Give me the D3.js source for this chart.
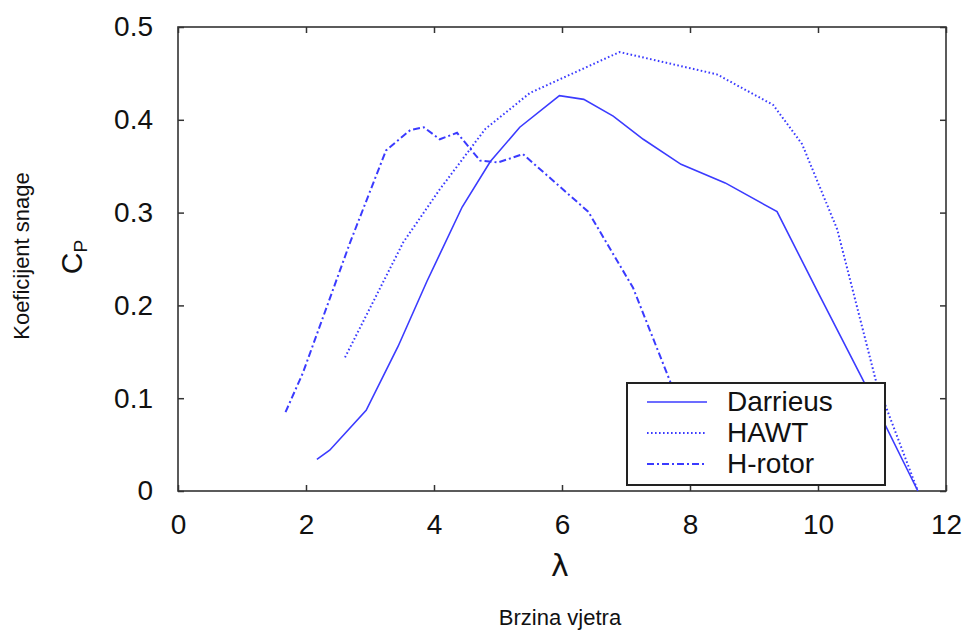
<!DOCTYPE html>
<html>
<head>
<meta charset="utf-8">
<script src="https://cdn.jsdelivr.net/npm/d3@7"></script>
<style>
  body { margin: 0; background: #fff; }
  svg { display: block; }
  .tick text { font-family: "Liberation Sans", Arial, sans-serif; font-size: 28px; fill: #111; }
</style>
</head>
<body>
<div id="chart"></div>
<script>
// values: lambda (tip speed ratio) vs Cp
const darrieusX = [2.17, 2.37, 2.94, 3.44, 3.89, 4.44, 4.88, 5.34, 5.96, 6.34, 6.8, 7.27, 7.86, 8.55, 9.36, 10.0, 10.7, 11.56];
const darrieusY = [0.034, 0.044, 0.087, 0.156, 0.226, 0.306, 0.355, 0.392, 0.426, 0.422, 0.404, 0.379, 0.352, 0.332, 0.301, 0.214, 0.12, 0.0];

const hawtX = [2.61, 3.52, 4.09, 4.8, 5.5, 6.9, 8.42, 9.3, 9.75, 10.3, 10.9, 11.56];
const hawtY = [0.144, 0.268, 0.325, 0.39, 0.429, 0.473, 0.449, 0.416, 0.374, 0.282, 0.12, 0.0];

const hrotorX = [1.68, 1.95, 2.27, 2.69, 3.25, 3.63, 3.84, 4.09, 4.36, 4.72, 5.0, 5.39, 6.41, 7.11, 7.69, 7.9];
const hrotorY = [0.085, 0.127, 0.188, 0.268, 0.367, 0.389, 0.392, 0.379, 0.386, 0.356, 0.354, 0.363, 0.301, 0.219, 0.118, 0.08];

const xTicks = [0, 2, 4, 6, 8, 10, 12];
const yTicks = [0, 0.1, 0.2, 0.3, 0.4, 0.5];
const seriesNames = ["Darrieus", "HAWT", "H-rotor"];

const width = 966, height = 630;
const margin = {top: 27, right: 20, bottom: 139, left: 178};
const w = width - margin.left - margin.right;
const h = height - margin.top - margin.bottom;
const blue = "#3b3bff";
const dashes = [null, "1.6,2.4", "7,3,2,3"];

let svg = d3.select("#chart").append("svg")
	.attr("width", width)
	.attr("height", height);

let g = svg.append("g")
	.attr("transform", "translate(" + margin.left + "," + margin.top + ")");

let xScale = d3.scaleLinear().domain([0, 12]).range([0, w]);
let yScale = d3.scaleLinear().domain([0, 0.5]).range([h, 0]);

// axes with inward ticks on all four sides
let fmtY = d => d === 0 ? "0" : d3.format(".1f")(d);
g.append("g")
	.attr("transform", "translate(0," + h + ")")
	.call(d3.axisBottom(xScale).tickValues(xTicks).tickSize(-6).tickPadding(23))
	.call(a => a.select(".domain").remove());
g.append("g")
	.call(d3.axisLeft(yScale).tickValues(yTicks).tickFormat(fmtY).tickSize(-6).tickPadding(25))
	.call(a => a.select(".domain").remove());
g.append("g")
	.call(d3.axisTop(xScale).tickValues(xTicks).tickSize(-6).tickFormat(""))
	.call(a => a.select(".domain").remove());
g.append("g")
	.attr("transform", "translate(" + w + ",0)")
	.call(d3.axisRight(yScale).tickValues(yTicks).tickSize(-6).tickFormat(""))
	.call(a => a.select(".domain").remove());
g.selectAll(".tick line").attr("stroke", "#333").attr("stroke-width", 1.5);

g.append("rect")
	.attr("width", w).attr("height", h)
	.attr("fill", "none")
	.attr("stroke", "#333")
	.attr("stroke-width", 1.6);

// the three curves
const series = [
	darrieusX.map((x, i) => ({x: x, y: darrieusY[i]})),
	hawtX.map((x, i) => ({x: x, y: hawtY[i]})),
	hrotorX.map((x, i) => ({x: x, y: hrotorY[i]}))
];
let line = d3.line()
	.x(d => xScale(d.x))
	.y(d => yScale(d.y));

series.forEach((s, i) => {
	g.append("path")
		.datum(s)
		.attr("fill", "none")
		.attr("stroke", blue)
		.attr("stroke-width", i == 0 ? 1.6 : 2)
		.attr("stroke-dasharray", dashes[i])
		.attr("d", line);
});

// legend
let lg = svg.append("g").attr("transform", "translate(627,383)");
lg.append("rect")
	.attr("width", 258).attr("height", 102)
	.attr("fill", "#fff")
	.attr("stroke", "#222")
	.attr("stroke-width", 2);
seriesNames.forEach((name, i) => {
	let yy = 19 + i * 31;
	lg.append("line")
		.attr("x1", 20).attr("x2", 80)
		.attr("y1", yy).attr("y2", yy)
		.attr("stroke", blue)
		.attr("stroke-width", i == 0 ? 1.6 : 2)
		.attr("stroke-dasharray", dashes[i]);
	lg.append("text")
		.attr("x", 100).attr("y", yy + 9)
		.attr("font-family", "Liberation Sans, Arial, sans-serif")
		.attr("font-size", 28)
		.attr("fill", "#111")
		.text(name);
});

// axis labels
svg.append("text")
	.attr("x", 560).attr("y", 576)
	.attr("text-anchor", "middle")
	.attr("font-family", "DejaVu Sans, sans-serif")
	.attr("font-size", 30)
	.attr("fill", "#111")
	.text("λ");

svg.append("text")
	.attr("x", 560).attr("y", 625)
	.attr("text-anchor", "middle")
	.attr("font-family", "Liberation Sans, sans-serif")
	.attr("font-size", 22)
	.attr("fill", "#111")
	.text("Brzina vjetra");

let cp = svg.append("text")
	.attr("transform", "translate(82,257) rotate(-90)")
	.attr("text-anchor", "middle")
	.attr("font-family", "Liberation Sans, Arial, sans-serif")
	.attr("font-size", 30)
	.attr("fill", "#111");
cp.append("tspan").text("C");
cp.append("tspan").attr("font-size", 19).attr("dy", 5).text("P");

svg.append("text")
	.attr("transform", "translate(29,256) rotate(-90)")
	.attr("text-anchor", "middle")
	.attr("font-family", "Liberation Sans, sans-serif")
	.attr("font-size", 22)
	.attr("fill", "#111")
	.text("Koeficijent snage");
</script>
</body>
</html>
